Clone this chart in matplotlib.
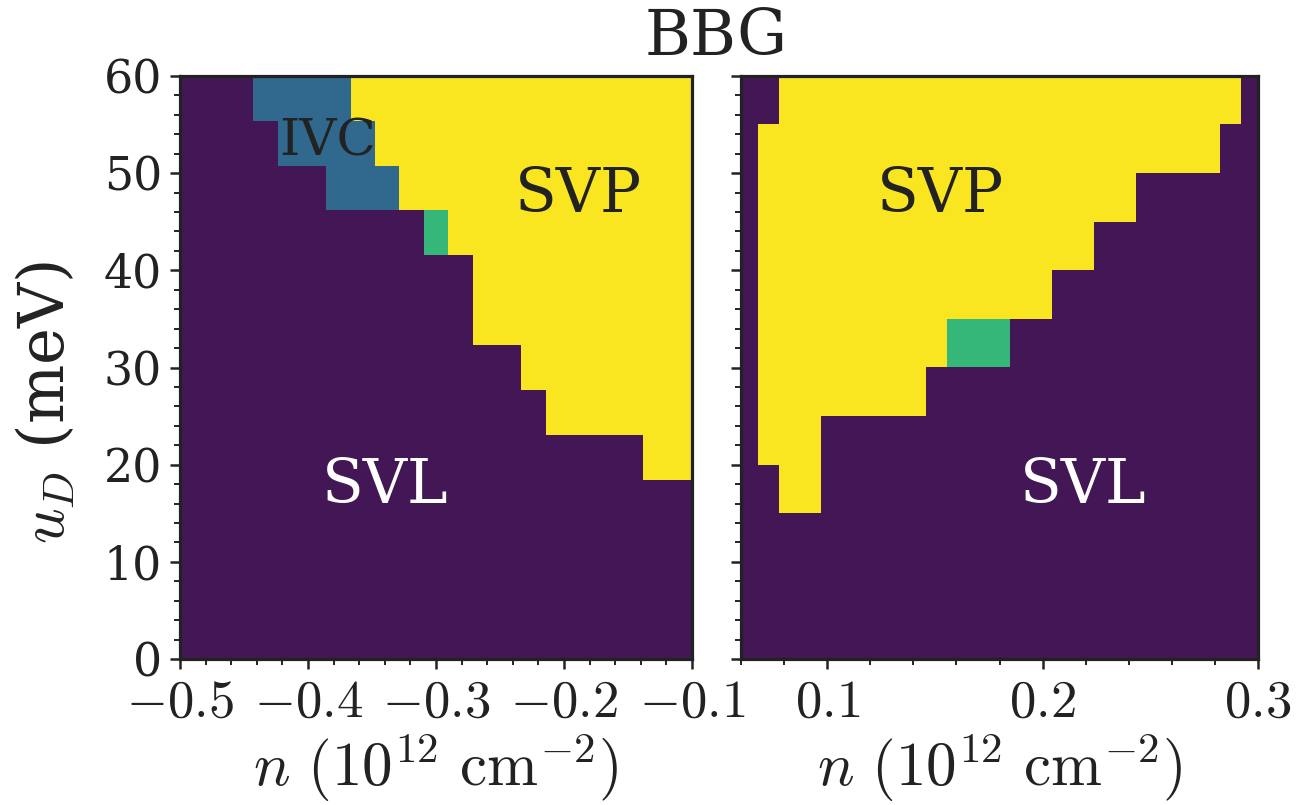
import numpy as np
import matplotlib
matplotlib.use("Agg")
import matplotlib.pyplot as plt
from matplotlib.colors import ListedColormap
from matplotlib.ticker import MultipleLocator

plt.rcParams['font.family'] = 'serif'
plt.rcParams['font.serif'] = ['DejaVu Serif']
plt.rcParams['mathtext.fontset'] = 'cm'

# phase codes: P = SVL, B = IVC, G = other, Y = SVP  (rows listed from top, u_D = 60 down to 0)
phase_code = {'P': 0, 'B': 1, 'G': 2, 'Y': 3}

left_rows = [
    "PPPBBBBYYYYYYYYYYYYYY",
    "PPPPBBBBYYYYYYYYYYYYY",
    "PPPPPPBBBYYYYYYYYYYYY",
    "PPPPPPPPPPGYYYYYYYYYY",
    "PPPPPPPPPPPPYYYYYYYYY",
    "PPPPPPPPPPPPYYYYYYYYY",
    "PPPPPPPPPPPPPPYYYYYYY",
    "PPPPPPPPPPPPPPPYYYYYY",
    "PPPPPPPPPPPPPPPPPPPYY",
    "PPPPPPPPPPPPPPPPPPPPP",
    "PPPPPPPPPPPPPPPPPPPPP",
    "PPPPPPPPPPPPPPPPPPPPP",
    "PPPPPPPPPPPPPPPPPPPPP",
]

right_rows = [
    "PPYYYYYYYYYYYYYYYYYYYYYYP",
    "PYYYYYYYYYYYYYYYYYYYYYYPP",
    "PYYYYYYYYYYYYYYYYYYPPPPPP",
    "PYYYYYYYYYYYYYYYYPPPPPPPP",
    "PYYYYYYYYYYYYYYPPPPPPPPPP",
    "PYYYYYYYYYGGGPPPPPPPPPPPP",
    "PYYYYYYYYPPPPPPPPPPPPPPPP",
    "PYYYPPPPPPPPPPPPPPPPPPPPP",
    "PPYYPPPPPPPPPPPPPPPPPPPPP",
    "PPPPPPPPPPPPPPPPPPPPPPPPP",
    "PPPPPPPPPPPPPPPPPPPPPPPPP",
    "PPPPPPPPPPPPPPPPPPPPPPPPP",
]

n_left_range = (-0.5, -0.1)
n_right_range = (0.058, 0.3017)
uD_range = (0, 60)

left_xticks = [-0.5, -0.4, -0.3, -0.2, -0.1]
left_xticklabels = [r'$-0.5$', r'$-0.4$', r'$-0.3$', r'$-0.2$', r'$-0.1$']
right_xticks = [0.1, 0.2, 0.3]
right_xticklabels = [r'$0.1$', r'$0.2$', r'$0.3$']
yticks = [0, 10, 20, 30, 40, 50, 60]

left_labels = [("IVC", -0.3844, 53.2, '#222222', 37),
               ("SVP", -0.189, 47.8, '#222222', 44),
               ("SVL", -0.340, 17.8, 'white', 44)]
right_labels = [("SVP", 0.1528, 47.8, '#222222', 44),
                ("SVL", 0.2188, 17.8, 'white', 44)]

phase_colors = ['#431756', '#31688e', '#35b779', '#f9e621']
cmap = ListedColormap(phase_colors)

left_grid = np.array([[phase_code[c] for c in r] for r in left_rows])
right_grid = np.array([[phase_code[c] for c in r] for r in right_rows])

fig = plt.figure(figsize=(12.97, 8.05), dpi=100)
ax1 = fig.add_axes([180 / 1297, 1 - 659 / 805, 512 / 1297, 583 / 805])
ax2 = fig.add_axes([741 / 1297, 1 - 659 / 805, 517 / 1297, 583 / 805])

spine_col = '#222222'
for ax, grid, xr in [(ax1, left_grid, n_left_range), (ax2, right_grid, n_right_range)]:
    ax.imshow(grid, cmap=cmap, vmin=-0.5, vmax=3.5, aspect='auto',
              interpolation='nearest', extent=[xr[0], xr[1], uD_range[0], uD_range[1]])
    ax.set_ylim(0, 60)
    ax.set_yticks(yticks)
    ax.yaxis.set_minor_locator(MultipleLocator(2))
    ax.xaxis.set_minor_locator(MultipleLocator(0.02))
    for s in ax.spines.values():
        s.set_linewidth(2.3)
        s.set_color(spine_col)
    ax.tick_params(which='major', length=7, width=1.8, color=spine_col, labelsize=33,
                   pad=6, labelcolor=spine_col)
    ax.tick_params(which='minor', length=4, width=1.4, color=spine_col)
    ax.set_xlabel(r'$n\ (10^{12}\ \mathrm{cm}^{-2})$', fontsize=44, color=spine_col, labelpad=2)

ax1.set_xlim(*n_left_range)
ax1.set_xticks(left_xticks)
ax1.set_xticklabels(left_xticklabels, fontsize=38)
ax2.set_xlim(0.06, 0.3)
ax2.set_xticks(right_xticks)
ax2.set_xticklabels(right_xticklabels, fontsize=38)
ax2.tick_params(axis='y', labelleft=False)

ax1.set_ylabel(r'$u_D$ (meV)', fontsize=45, color=spine_col)
ax1.yaxis.set_label_coords(-0.2, 0.44)

for txt, x, y, c, fs in left_labels:
    ax1.text(x, y, txt, color=c, fontsize=fs, ha='center', va='center')
for txt, x, y, c, fs in right_labels:
    ax2.text(x, y, txt, color=c, fontsize=fs, ha='center', va='center')

fig.text(0.552, 0.953, "BBG", fontsize=45, ha='center', va='center', color=spine_col)

fig.savefig("out.png", dpi=100)
